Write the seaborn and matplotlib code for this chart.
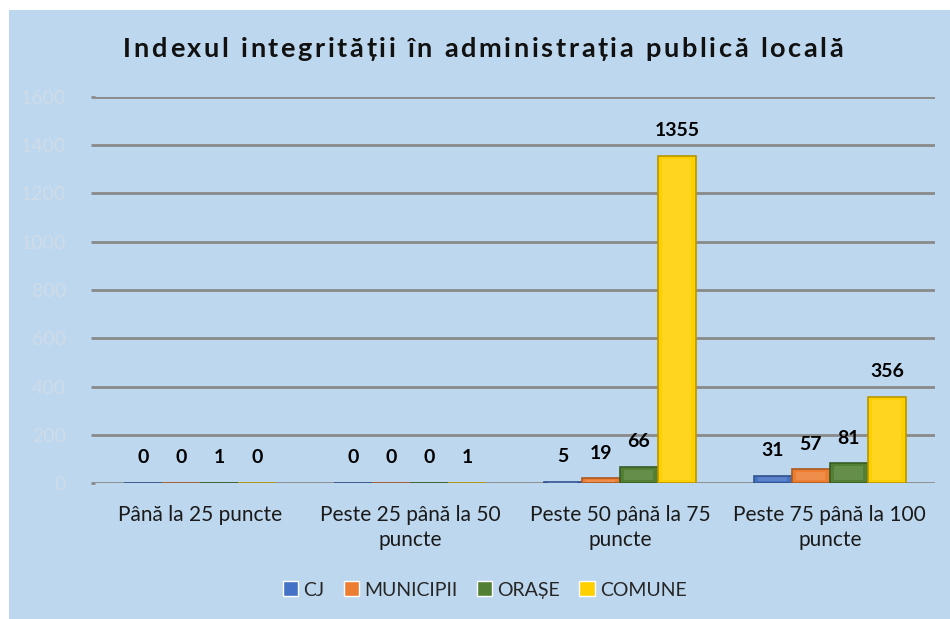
import pandas as pd
import matplotlib.pyplot as plt
import matplotlib.colors as mcolors
from matplotlib.patches import Rectangle
import seaborn as sns

# data
title = "Indexul integrității în administrația publică locală"
categories = ["Până la 25 puncte", "Peste 25 până la 50\npuncte",
              "Peste 50 până la 75\npuncte", "Peste 75 până la 100\npuncte"]
series = ["CJ", "MUNICIPII", "ORAȘE", "COMUNE"]
cj = [0, 0, 5, 31]
municipii = [0, 0, 19, 57]
orase = [1, 0, 66, 81]
comune = [0, 1, 1355, 356]
colors = ["#4472C4", "#ED7D31", "#517F33", "#FFD000"]

BG = "#BDD7EE"

df = pd.DataFrame({
    "cat": categories * 4,
    "serie": [s for s in series for _ in categories],
    "val": cj + municipii + orase + comune,
})

sns.set_theme(style="white")
plt.rcParams["font.family"] = ["Lato", "DejaVu Sans"]

fig = plt.figure(figsize=(9.5, 6.19), dpi=100, facecolor="white")
fig.patches.append(Rectangle((9 / 950, 0), 1, 1 - 10 / 619, transform=fig.transFigure,
                             facecolor=BG, edgecolor="none", zorder=-10))
ax = fig.add_axes([0.1, 0.2197, 0.884, 0.6236])
ax.set_facecolor(BG)

sns.barplot(data=df, x="cat", y="val", hue="serie", hue_order=series,
            palette=colors, width=0.725, gap=0, saturation=1, ax=ax, zorder=3)

# fake bevel on each bar
for cont, c in zip(ax.containers, colors):
    rgb = mcolors.to_rgb(c)
    dark = tuple(v * 0.72 for v in rgb)
    light = tuple(min(1, v + (1 - v) * 0.35) for v in rgb)
    for p in cont.patches:
        p.set_edgecolor(dark)
        p.set_linewidth(1.2)
        x, y, w, h = p.get_x(), p.get_y(), p.get_width(), p.get_height()
        if h <= 0:
            continue
        inset_y = min(h * 0.25, 12)
        ax.add_patch(Rectangle((x + w * 0.12, y + inset_y), w * 0.76, h - 2 * inset_y,
                               facecolor=light, edgecolor="none", alpha=0.35, zorder=4))
    ax.bar_label(cont, padding=12, fontsize=14, fontweight="bold", color="black", zorder=5)

ax.set_ylim(0, 1600)
ax.set_xlim(-0.5, 3.5)
ax.set_yticks(range(0, 1601, 200))
ax.yaxis.grid(True, color="#8A8A8A", linewidth=2, zorder=0)
ax.tick_params(axis="y", colors="#8A8A8A", labelcolor="#CFDCE8", labelsize=14,
               length=3, width=2, pad=18, left=True)
ax.tick_params(axis="x", length=0, labelsize=15, labelcolor="#1A1A1A", pad=16)
for lab in ax.get_xticklabels():
    lab.set_linespacing(1.3)
    lab.set_verticalalignment("top")
for s in ax.spines.values():
    s.set_visible(False)
ax.set_xlabel("")
ax.set_ylabel("")

# letter-spaced title, drawn one glyph at a time
renderer = fig.canvas.get_renderer()
tkw = dict(fontsize=19.5, fontweight="bold", color="#111111", va="baseline", ha="left")


def text_width(s):
    t = fig.text(0, 0, s + "|", **tkw)
    w = t.get_window_extent(renderer).width
    t.remove()
    return w


bar_w = text_width("")
full_w = text_width(title) - bar_w
target_w = 720
extra = (target_w - full_w) / (len(title) - 1)
x0 = 483 - target_w / 2
for i, ch in enumerate(title):
    xpx = x0 + (text_width(title[:i]) - bar_w) + i * extra
    fig.text(xpx / 950, 1 - 57 / 619, ch, **tkw)

handles, labels = ax.get_legend_handles_labels()
ax.legend(handles, labels, loc="center", bbox_to_anchor=(0.51, 0.047),
          bbox_transform=fig.transFigure, ncol=4, frameon=False, fontsize=14,
          handlelength=0.8, handleheight=0.8, handletextpad=0.25, columnspacing=1.0)

fig.savefig("out.png", dpi=100, facecolor="white")
